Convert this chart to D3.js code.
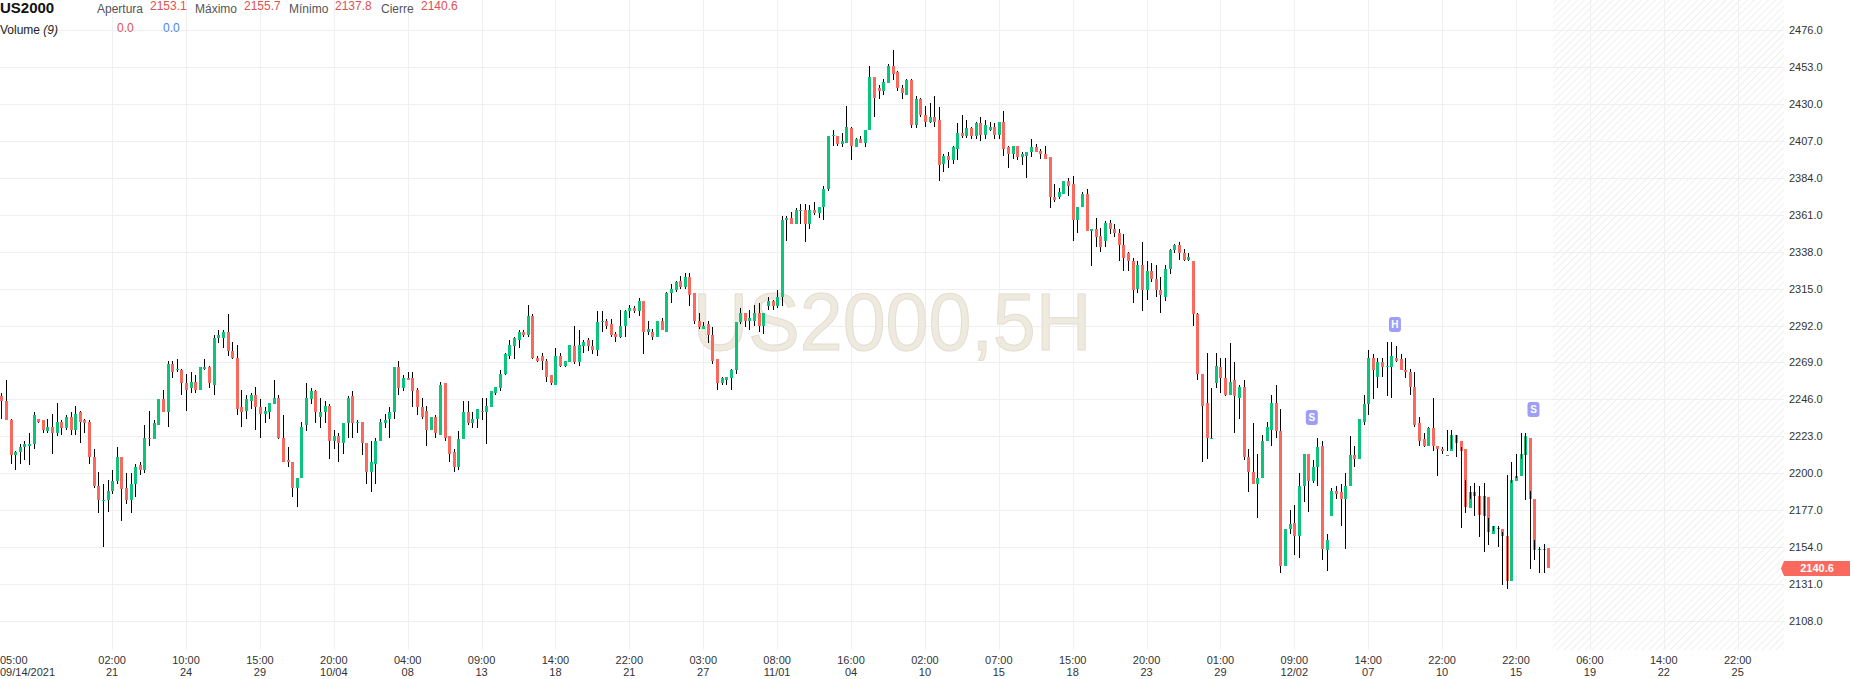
<!DOCTYPE html>
<html><head><meta charset="utf-8">
<script src="https://cdn.jsdelivr.net/npm/d3@7"></script>
<style>
html,body{margin:0;padding:0;background:#fff;}
svg{display:block;font-family:"Liberation Sans",Arial,sans-serif;}
</style></head><body>
<svg id="chart" width="1853" height="679"></svg>
<script>
const symbol = "US2000";
const watermarkText = "US2000,5H";
const headerLabels = ["Apertura", "Máximo", "Mínimo", "Cierre"];
const headerValues = ["2153.1", "2155.7", "2137.8", "2140.6"];
const volumeLabel = "Volume";
const volumeParam = "(9)";
const volumeValues = ["0.0", "0.0"];
const lastPrice = 2140.6;
const yTicks = [2108, 2131, 2154, 2177, 2200, 2223, 2246, 2269, 2292, 2315, 2338, 2361, 2384, 2407, 2430, 2453, 2476];
// [candle index, time, date]
const timeTicks = [
  [0, "05:00", "09/14/2021"], [24, "02:00", "21"], [40, "10:00", "24"], [56, "15:00", "29"],
  [72, "20:00", "10/04"], [88, "04:00", "08"], [104, "09:00", "13"], [120, "14:00", "18"],
  [136, "22:00", "21"], [152, "03:00", "27"], [168, "08:00", "11/01"], [184, "16:00", "04"],
  [200, "02:00", "10"], [216, "07:00", "15"], [232, "15:00", "18"], [248, "20:00", "23"],
  [264, "01:00", "29"], [280, "09:00", "12/02"], [296, "14:00", "07"], [312, "22:00", "10"],
  [328, "22:00", "15"], [344, "06:00", "19"], [360, "14:00", "22"], [376, "22:00", "25"]
];
// [candle index, price, letter]
const markers = [[284, 2235, "S"], [302, 2293, "H"], [332, 2240, "S"]];
// [open, high, low, close] per 5H candle
const ohlc = [
[2248,2250,2234,2245],[2245,2258,2233,2233],[2233,2234,2206,2211],[2211,2214,2202,2213],[2213,2218,2206,2216],
[2216,2220,2208,2218],[2217,2225,2205,2218],[2218,2238,2215,2236],[2234,2234,2231,2232],[2233,2233,2225,2227],
[2226,2234,2225,2229],[2229,2237,2212,2225],[2225,2244,2223,2232],[2232,2233,2224,2228],[2228,2236,2227,2235],
[2235,2238,2224,2227],[2227,2242,2224,2237],[2238,2239,2219,2232],[2233,2234,2225,2231],[2232,2233,2206,2210],
[2210,2215,2191,2192],[2192,2201,2175,2183],[2182.5,2193,2154,2183],[2183,2196,2176,2189],[2189,2202,2187,2195],
[2195,2216,2193,2210],[2210,2210,2170,2190],[2191,2200,2181,2183],[2183,2200,2175,2193],[2193,2206,2185,2204],
[2205,2207,2199,2202],[2202,2230,2200,2222],[2222,2239,2217,2221],[2221,2233,2221,2231],[2230,2246,2230,2246],
[2246,2252,2238,2238],[2238,2270,2229,2268],[2268,2270,2259,2263],[2264,2271,2263,2265],[2264,2265,2249,2256],
[2256,2262,2239,2252],[2253,2263,2250,2257],[2257,2261,2250,2252],[2252,2266,2252,2266],[2265,2271,2264,2266],
[2266,2267,2253,2256],[2255,2286,2249,2284],[2284,2289,2281,2286],[2284,2289,2278,2288],[2288,2299,2273,2276],
[2276,2282,2271,2272],[2272,2280,2236,2240],[2241,2252,2229,2238],[2239,2249,2234,2246],[2245,2250,2240,2249],
[2249,2254,2227,2241],[2241,2246,2222,2237],[2237,2241,2231,2239],[2238,2244,2234,2244],[2243,2258,2243,2247],
[2247,2249,2221,2222],[2222,2236,2207,2207],[2208,2216,2204,2207],[2207,2207,2185,2191],[2191,2197,2179,2197],
[2197,2232,2197,2229],[2230,2256,2226,2247],[2246,2253,2243,2251],[2251,2252,2231,2238],[2235,2247,2228,2238],
[2238,2245,2231,2242],[2242,2243,2209,2220],[2220,2227,2215,2223],[2223,2225,2207,2219],[2219,2231,2212,2231],
[2231,2248,2222,2247],[2248,2251,2222,2231],[2231,2233,2225,2232],[2232,2232,2211,2219],[2219,2219,2193,2201],
[2201,2220,2188,2207],[2206,2222,2193,2220],[2220,2234,2220,2232],[2231,2237,2228,2233],[2234,2241,2222,2238],
[2238,2266,2234,2266],[2266,2270,2249,2253],[2253,2261,2251,2259],[2259,2263,2258,2258],[2259,2263,2241,2251],
[2252,2253,2236,2241],[2241,2247,2234,2235],[2239,2242,2217,2227],[2227,2235,2227,2235],[2235,2236,2222,2225],
[2224,2257,2224,2255],[2256,2256,2220,2222],[2223,2223,2207,2212],[2213,2215,2201,2204],[2204,2226,2202,2221],
[2221,2245,2221,2238],[2238,2245,2230,2231],[2231,2238,2228,2234],[2234,2240,2228,2240],[2239,2247,2233,2238],
[2238,2247,2218,2242],[2241,2251,2241,2251],[2250,2254,2249,2254],[2253,2264,2251,2262],[2262,2275,2261,2274],
[2273,2283,2271,2280],[2279,2285,2271,2284],[2283,2289,2278,2288],[2288,2289,2285,2286],[2286,2305,2285,2298],
[2298,2299,2271,2272],[2272,2273,2269,2270],[2273,2275,2264,2270],[2270,2271,2257,2260],[2261,2261,2255,2256],
[2255,2278,2255,2273],[2273,2275,2266,2267],[2267,2270,2266,2270],[2269,2280,2269,2280],[2279,2292,2268,2269],
[2269,2289,2267,2280],[2279,2283,2275,2282],[2283,2284,2276,2279],[2279,2283,2274,2277],[2277,2301,2273,2294],
[2294,2301,2288,2295],[2295,2296,2290,2292],[2293,2296,2285,2286],[2287,2288,2282,2285],[2285,2302,2284,2292],
[2292,2302,2285,2301],[2301,2305,2297,2303],[2303,2304,2300,2301],[2301,2309,2298,2307],[2307,2307,2274,2288],
[2288,2295,2286,2290],[2288,2290,2283,2285],[2285,2295,2285,2295],[2295,2297,2289,2289],[2288,2313,2288,2312],
[2312,2318,2306,2315],[2314,2320,2313,2319],[2320,2323,2315,2316],[2316,2325,2315,2322],[2322,2325,2304,2311],
[2312,2312,2293,2295],[2295,2300,2290,2291],[2290,2294,2290,2292],[2293,2295,2281,2286],[2286,2291,2268,2270],
[2271,2271,2252,2256],[2256,2260,2255,2259],[2258,2260,2255,2260],[2259,2265,2252,2264],[2264,2294,2262,2294],
[2294,2303,2293,2300],[2300,2300,2291,2295],[2295,2302,2289,2297],[2295,2305,2292,2300],[2300,2306,2288,2292],
[2292,2300,2287,2300],[2304,2310,2302,2307],[2307,2308,2302,2304],[2304,2314,2303,2310],[2310,2360,2304,2358],
[2358,2360,2345,2359],[2359,2363,2355,2355],[2355,2365,2355,2364],[2363.5,2368,2355,2364],[2364,2368,2344,2355],
[2355,2367,2352,2364],[2364,2369,2361,2362],[2362,2366,2359,2366],[2366,2379,2358,2377],[2377,2410,2376,2410],
[2410,2414,2404,2411],[2410,2410,2404,2405],[2405,2412,2403,2407],[2406,2429,2406,2416],[2415,2416,2395,2404],
[2403,2409,2403,2408],[2408,2410,2406,2406],[2406,2414,2403,2414],[2414,2454,2414,2447],[2447,2447,2422,2434],
[2440,2442,2433,2438],[2438,2446,2436,2444],[2443,2455,2443,2454],[2454,2464,2445,2449],[2450,2451,2438,2440],
[2440,2442,2433,2437],[2436,2446,2436,2445],[2445,2446,2415,2417],[2417,2435,2415,2433],[2433,2434,2422,2423],
[2423,2429,2416,2419],[2419,2431,2418,2422],[2422,2435,2416,2419],[2420,2428,2382,2392],[2393,2399,2388,2398],
[2398,2400,2390,2395],[2395,2404,2393,2403],[2402,2418,2395,2412],[2412,2423,2409,2410],[2410,2420,2409,2415],
[2415,2416,2408,2410],[2410,2419,2408,2418],[2418,2422,2407,2411],[2411,2420,2408,2417],[2414,2419,2413,2416],
[2416,2418,2408,2411],[2411,2419,2408,2419],[2419,2426,2398,2402],[2403,2404,2390,2399],[2399,2404,2396,2404],
[2404,2404,2395,2397],[2397,2400,2392,2399],[2398,2400,2384,2400],[2400,2408,2397,2403],[2403,2405,2400,2400],
[2401,2402,2396,2399],[2399,2404,2396,2396],[2397,2397,2365,2372],[2372,2380,2369,2370],[2372,2378,2371,2375],
[2374,2382,2374,2382],[2382,2384,2373,2379],[2380,2385,2345,2358],[2358,2366,2350,2366],[2366,2375,2366,2374],
[2374,2377,2351,2351],[2351,2352,2329,2352],[2352,2359,2341,2347],[2348,2353,2338,2341],[2345,2357,2341,2356],
[2356,2358,2349,2352],[2352,2355,2347,2350],[2350,2352,2332,2342],[2342,2349,2326,2334],[2337,2338,2326,2332],
[2332,2334,2306,2314],[2315,2332,2312,2330],[2330,2344,2301,2314],[2314,2332,2308,2326],[2326,2331,2319,2321],
[2321,2330,2310,2314],[2314,2322,2300,2311],[2310,2330,2307,2327],[2327,2340,2324,2339],[2339,2343,2337,2342],
[2342,2344,2333,2337],[2337,2340,2332,2333],[2333,2337,2332,2335],[2332,2332,2292,2299],[2299,2300,2258,2262],
[2262,2262,2207,2242],[2244,2275,2209,2222],[2221,2253,2221,2222],[2256,2275,2253,2267],[2266,2272,2250,2259],
[2259,2272,2248,2249],[2249,2281,2249,2257],[2258,2269,2225,2248],[2247,2255,2234,2254],[2254,2258,2208,2210],
[2210,2215,2188,2201],[2201,2231,2193,2193],[2193,2212,2172,2197],[2197,2224,2197,2220],[2220,2232,2220,2229],
[2227,2249,2217,2244],[2244,2255,2222,2226],[2226,2240,2138,2142],[2142,2165,2142,2165],[2165,2177,2162,2168],
[2169,2180,2149,2161],[2161,2200,2147,2192],[2192,2212,2182,2212],[2212,2212,2176,2195],[2195,2208,2194,2204],
[2204,2222,2192,2216],[2217,2220,2146,2153],[2152,2162,2139,2158],[2173,2191,2173,2189],[2189,2192,2184,2187],
[2188,2193,2167,2184],[2184,2200,2153,2192],[2192,2223,2192,2211],[2211,2217,2204,2209],[2209,2234,2209,2234],
[2232,2249,2230,2243],[2243,2277,2236,2272],[2272,2274,2246,2264],[2260,2272,2253,2269],[2269,2272,2260,2266],
[2266,2282,2248,2267],[2266,2282,2247,2273],[2272,2279,2269,2270],[2271,2274,2264,2264],[2264,2272,2259,2263],
[2263,2265,2249,2254],[2254,2263,2229,2230],[2231,2235,2217,2220],[2221,2225,2216,2217],[2217,2229,2217,2228],
[2228,2247,2214,2217],[2217,2217,2198,2215],[2215,2216,2212,2214],[2211,2211,2211,2211],[2214,2227,2214,2224],
[2224,2227,2215,2219],[2220,2224,2210,2214],[2215,2216,2166,2179],[2178,2196,2175,2188],[2188,2192,2184,2186],
[2186,2194,2173,2174],[2173,2192,2160,2186],[2185,2194,2151,2163],[2162,2172,2155,2167],[2166,2167,2164,2165],
[2165,2167,2154,2161],[2161,2163,2130,2133],[2133,2199,2128,2196],[2195,2207,2194,2198],[2198,2212,2197,2212],
[2211,2225,2209,2223],[2222,2225,2183,2184],[2184,2189,2140,2152],[2152,2158,2146,2153],[2153,2154,2138,2152],
[2153.1,2155.7,2137.8,2140.6]
];

const UP = "#0cc47c", DOWN = "#f9695e", FLAT = "#8a8a8a";
const W = 1853, H = 679, plotRight = 1784, plotBottom = 650;

const svg = d3.select("#chart");
const x = d3.scaleLinear().domain([0, 386]).range([1.3, 1.3 + 386 * 4.618]);
const y = d3.scaleLinear().domain([2108, 2476]).range([620.7, 30.4]);

// hatch pattern for the future area
const defs = svg.append("defs");
const pat = defs.append("pattern").attr("id", "hatch").attr("patternUnits", "userSpaceOnUse")
  .attr("width", 5).attr("height", 5).attr("patternTransform", "rotate(45)");
pat.append("rect").attr("width", 5).attr("height", 5).attr("fill", "#fff");
pat.append("line").attr("x1", 0).attr("y1", 0).attr("x2", 0).attr("y2", 5)
  .attr("stroke", "#e9e9e9").attr("stroke-width", 1.4);

const hatchStart = Math.round(x(ohlc.length - 0.5)) + 2;
svg.append("rect").attr("x", hatchStart).attr("y", 0)
  .attr("width", plotRight - hatchStart).attr("height", plotBottom).attr("fill", "url(#hatch)");

// grid
const grid = svg.append("g").attr("shape-rendering", "crispEdges");
grid.selectAll(".hg").data(yTicks).join("line")
  .attr("x1", 0).attr("x2", plotRight)
  .attr("y1", d => Math.round(y(d)) + 0.5).attr("y2", d => Math.round(y(d)) + 0.5)
  .attr("stroke", "#efefef");
grid.selectAll(".vg").data(timeTicks.slice(1)).join("line")
  .attr("x1", d => Math.round(x(d[0])) + 0.5).attr("x2", d => Math.round(x(d[0])) + 0.5)
  .attr("y1", 0).attr("y2", plotBottom)
  .attr("stroke", "#f0f0f0");

// watermark
svg.append("text").attr("x", plotRight / 2).attr("y", 350)
  .attr("text-anchor", "middle").attr("font-size", 82)
  .attr("textLength", 399).attr("lengthAdjust", "spacingAndGlyphs")
  .attr("fill", "#efeae0").attr("stroke", "#e4ddcf").attr("stroke-width", 1)
  .text(watermarkText);

// candles
const cg = svg.append("g").attr("shape-rendering", "crispEdges");
const candles = cg.selectAll("g").data(ohlc).join("g");
candles.filter(d => d[1] !== d[2]).append("line")
  .attr("x1", (d, i) => Math.round(x(i)) + 0.5).attr("x2", (d, i) => Math.round(x(i)) + 0.5)
  .attr("y1", d => y(d[1])).attr("y2", d => y(d[2]))
  .attr("stroke", "#000").attr("stroke-width", 1);
candles.append("rect")
  .attr("x", (d, i) => Math.round(x(i)) - 1)
  .attr("width", 3)
  .attr("y", d => Math.min(y(d[0]), y(d[3])))
  .attr("height", d => Math.max(1, Math.abs(y(d[0]) - y(d[3]))))
  .attr("fill", d => d[3] > d[0] ? UP : d[3] < d[0] ? DOWN : FLAT);

// markers
const mg = svg.append("g");
const mk = mg.selectAll("g").data(markers).join("g")
  .attr("transform", d => `translate(${x(d[0]) - 1},${y(d[1])})`);
mk.append("rect").attr("x", -6).attr("y", -7).attr("width", 12).attr("height", 15).attr("rx", 3)
  .attr("fill", "#9e9ef9");
mk.append("text").attr("y", 4).attr("text-anchor", "middle").attr("font-size", 10)
  .attr("font-weight", "bold").attr("fill", "#fff").text(d => d[2]);

// y axis labels
svg.append("g").selectAll("text").data(yTicks).join("text")
  .attr("x", 1789).attr("y", d => y(d) + 4)
  .attr("font-size", 11).attr("fill", "#333")
  .text(d => d.toFixed(1));

// last price tag
const ly = y(lastPrice);
svg.append("path")
  .attr("d", `M1781,${ly} L1784,${ly - 7.5} L1850,${ly - 7.5} L1850,${ly + 7.5} L1784,${ly + 7.5} Z`)
  .attr("fill", DOWN);
svg.append("text").attr("x", 1817).attr("y", ly + 4).attr("text-anchor", "middle")
  .attr("font-size", 11).attr("font-weight", "bold").attr("fill", "#fff").text(lastPrice.toFixed(1));

// x axis labels
const xl = svg.append("g").attr("font-size", 11).attr("fill", "#333");
timeTicks.forEach((t, k) => {
  const anchor = k === 0 ? "start" : "middle";
  const xp = k === 0 ? 0 : x(t[0]);
  xl.append("text").attr("x", xp).attr("y", 664).attr("text-anchor", anchor).text(t[1]);
  xl.append("text").attr("x", xp).attr("y", 676).attr("text-anchor", anchor).text(t[2]);
});

// header
const hd = svg.append("g");
hd.append("text").attr("x", 0).attr("y", 13).attr("font-size", 15).attr("font-weight", "bold")
  .attr("fill", "#111").text(symbol);
const labelX = [97, 195, 289, 381], valueX = [150, 244, 335, 421];
headerLabels.forEach((l, k) => {
  hd.append("text").attr("x", labelX[k]).attr("y", 12.5).attr("font-size", 12).attr("fill", "#555").text(l);
  hd.append("text").attr("x", valueX[k]).attr("y", 10).attr("font-size", 12).attr("fill", "#e0504f").text(headerValues[k]);
});
const vt = hd.append("text").attr("x", 0).attr("y", 33.5).attr("font-size", 12).attr("fill", "#222");
vt.append("tspan").text(volumeLabel + " ");
vt.append("tspan").attr("font-style", "italic").text(volumeParam);
hd.append("text").attr("x", 117).attr("y", 32).attr("font-size", 12).attr("fill", "#e0504f").text(volumeValues[0]);
hd.append("text").attr("x", 163).attr("y", 32).attr("font-size", 12).attr("fill", "#4a86e8").text(volumeValues[1]);
</script>
</body></html>
